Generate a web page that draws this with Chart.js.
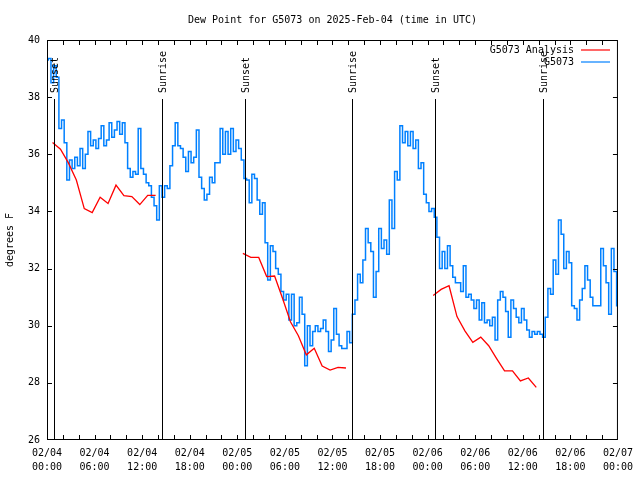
<!DOCTYPE html>
<html lang="en">
<head>
<meta charset="UTF-8">
<title>Dew Point for G5073</title>
<script src="https://cdn.jsdelivr.net/npm/chart.js"></script>
<style>
  html, body { margin: 0; padding: 0; background: #fff; }
  #wrap { width: 640px; height: 480px; }
</style>
</head>
<body>
<div id="wrap"><canvas id="dewChart" width="640" height="480"></canvas></div>
<script>
// x axis is hours since 02/04 00:00 UTC
const xTicks = [0, 6, 12, 18, 24, 30, 36, 42, 48, 54, 60, 66, 72];
const xTickDates = ['02/04', '02/04', '02/04', '02/04', '02/05', '02/05', '02/05', '02/05', '02/06', '02/06', '02/06', '02/06', '02/07'];
const xTickTimes = ['00:00', '06:00', '12:00', '18:00', '00:00', '06:00', '12:00', '18:00', '00:00', '06:00', '12:00', '18:00', '00:00'];
const yTicks = [26, 28, 30, 32, 34, 36, 38, 40];

// sunrise / sunset markers
const sunHours = [0.92, 14.46, 25.0, 38.42, 48.96, 62.5];
const sunLabels = ['Sunset', 'Sunrise', 'Sunset', 'Sunrise', 'Sunset', 'Sunrise'];

// G5073 observations, one value every 20 minutes from 02/04 00:00
const obsStep = 1 / 3;
const obsValues = [
  39.3, 39.35, 38.5,  39.1, 38.7, 36.9,  37.2, 36.4, 35.1,  35.8, 35.5, 35.9,
  35.6, 36.2, 35.5,   36.0, 36.8, 36.3,  36.5, 36.2, 36.55, 37.0, 36.3, 36.5,
  37.1, 36.6, 36.85,  37.15, 36.7, 37.1, 36.4, 35.5, 35.2,  35.4, 35.3, 36.9,
  35.5, 35.3, 35.0,   34.9, 34.5, 34.2,  33.7, 34.9, 34.5,  34.9, 34.8, 35.6,
  36.3, 37.1, 36.3,   36.2, 35.9, 35.4,  36.1, 35.7, 35.9,  36.85, 35.2, 34.8,
  34.4, 34.6, 35.2,   35.0, 35.7, 35.7,  36.9, 36.0, 36.8,  36.0, 36.9, 36.1,
  36.5, 36.2, 35.8,   35.15, 35.1, 34.3, 35.3, 35.15, 34.4, 33.9, 34.3, 32.9,
  31.6, 32.8, 32.6,   32.0, 31.8, 31.2,  30.9, 31.1, 30.2,  31.1, 30.0, 30.1,
  31.0, 30.4, 28.6,   30.0, 29.3, 29.8,  30.0, 29.8, 29.9,  30.2, 29.8, 29.1,
  29.5, 30.6, 29.7,   29.3, 29.2, 29.2,  29.8, 29.4, 30.4,  30.9, 31.8, 31.5,
  32.3, 33.4, 32.9,   32.6, 31.0, 31.9,  33.4, 32.7, 33.0,  32.5, 34.4, 33.4,
  35.4, 35.1, 37.0,   36.4, 36.8, 36.3,  36.8, 36.2, 36.5,  35.5, 35.7, 34.6,
  34.3, 34.0, 34.1,   33.8, 33.1, 32.0,  32.6, 32.0, 32.8,  32.1, 31.7, 31.5,
  31.5, 31.2, 32.1,   31.0, 31.1, 30.9,  30.6, 30.9, 30.2,  30.8, 30.1, 30.2,
  30.0, 30.3, 29.5,   30.9, 31.2, 31.0,  30.5, 29.6, 30.9,  30.6, 30.3, 30.1,
  30.6, 30.2, 29.85,  29.6, 29.8, 29.7,  29.8, 29.7, 29.6,  30.3, 31.3, 31.1,
  32.3, 31.8, 33.7,   33.2, 32.0, 32.6,  32.2, 30.7, 30.6,  30.2, 30.9, 31.3,
  32.1, 31.6, 31.0,   30.7, 30.7, 30.7,  32.7, 32.1, 31.5,  30.4, 32.7, 31.9,
  30.7
];

// G5073 Analysis, hourly, three runs
const anaStarts = [0.7, 24.7, 48.7];
const anaRun1 = [36.41, 36.18, 35.7, 35.1, 34.1, 33.96, 34.5, 34.28, 34.92, 34.55, 34.52, 34.24, 34.56, 34.56];
const anaRun2 = [32.53, 32.39, 32.39, 31.72, 31.74, 30.96, 30.14, 29.65, 28.98, 29.21, 28.59, 28.45, 28.54, 28.52];
const anaRun3 = [31.06, 31.27, 31.4, 30.32, 29.82, 29.42, 29.6, 29.3, 28.85, 28.42, 28.42, 28.07, 28.17, 27.84];

const TITLE = 'Dew Point for G5073 on 2025-Feb-04 (time in UTC)';
const MONO = 'DejaVu Sans Mono';
const RED = '#ff0000';
const BLUE = '#0080ff';

const obsPoints = obsValues.map((v, i) => ({ x: i * obsStep, y: v }));

const anaPoints = [];
[anaRun1, anaRun2, anaRun3].forEach((run, r) => {
  if (r > 0) anaPoints.push({ x: anaStarts[r] - 0.5, y: null });
  run.forEach((v, k) => anaPoints.push({ x: anaStarts[r] + k, y: v }));
});

// title, frame, inward tick marks, sun lines and the legend
const decor = {
  id: 'decor',
  afterDatasetsDraw(chart) {
    const { ctx, chartArea: a, scales: { x, y } } = chart;
    ctx.save();
    ctx.strokeStyle = '#000';
    ctx.fillStyle = '#000';
    ctx.lineWidth = 1;
    ctx.font = '10px ' + MONO;

    // title centred over the plot
    ctx.textAlign = 'center';
    ctx.textBaseline = 'middle';
    ctx.fillText(TITLE, (a.left + a.right) / 2, 20);

    // sunrise / sunset
    sunHours.forEach((h, i) => {
      const px = Math.round(x.getPixelForValue(h)) + 0.5;
      ctx.beginPath();
      ctx.moveTo(px, 99);
      ctx.lineTo(px, a.bottom);
      ctx.stroke();
      ctx.save();
      ctx.translate(px + 1, 93);
      ctx.rotate(-Math.PI / 2);
      ctx.textAlign = 'left';
      ctx.textBaseline = 'middle';
      ctx.fillText(sunLabels[i], 0, 0);
      ctx.restore();
    });

    // frame
    ctx.strokeRect(a.left + 0.5, a.top + 0.5, a.right - a.left - 1, a.bottom - a.top - 1);

    // tick marks inside the frame
    ctx.beginPath();
    for (let h = 2; h < 72; h += 2) {
      const px = Math.round(x.getPixelForValue(h)) + 0.5;
      ctx.moveTo(px, a.bottom); ctx.lineTo(px, a.bottom - 5);
      ctx.moveTo(px, a.top); ctx.lineTo(px, a.top + 5);
    }
    yTicks.slice(1, -1).forEach(v => {
      const py = Math.round(y.getPixelForValue(v)) + 0.5;
      ctx.moveTo(a.left, py); ctx.lineTo(a.left + 5, py);
      ctx.moveTo(a.right, py); ctx.lineTo(a.right - 5, py);
    });
    ctx.stroke();
    ctx.restore();
  },
  afterDraw(chart) {
    const ctx = chart.ctx;
    const items = [['G5073 Analysis', RED, 50], ['G5073', BLUE, 62]];
    ctx.save();
    ctx.font = '10px ' + MONO;
    ctx.textAlign = 'right';
    ctx.textBaseline = 'middle';
    items.forEach(([label, color, yy]) => {
      ctx.fillStyle = '#000';
      ctx.fillText(label, 574, yy);
      ctx.strokeStyle = color;
      ctx.lineWidth = 1.2;
      ctx.beginPath();
      ctx.moveTo(581, yy);
      ctx.lineTo(610, yy);
      ctx.stroke();
    });
    ctx.restore();
  }
};

new Chart(document.getElementById('dewChart'), {
  type: 'line',
  data: {
    datasets: [
      {
        label: 'G5073 Analysis',
        data: anaPoints,
        borderColor: RED,
        borderWidth: 1.3,
        pointRadius: 0,
        spanGaps: false,
        tension: 0
      },
      {
        label: 'G5073',
        data: obsPoints,
        borderColor: BLUE,
        borderWidth: 1.5,
        pointRadius: 0,
        stepped: 'middle'
      }
    ]
  },
  options: {
    responsive: false,
    animation: false,
    layout: { padding: { top: 40, right: 19 } },
    plugins: {
      legend: { display: false },
      tooltip: { enabled: false },
      title: { display: false }
    },
    scales: {
      x: {
        type: 'linear',
        min: 0,
        max: 72,
        grid: { display: false, drawTicks: false },
        border: { display: false },
        afterBuildTicks: s => { s.ticks = xTicks.map(v => ({ value: v })); },
        afterFit: s => { s.height = 40; },
        ticks: {
          autoSkip: false,
          maxRotation: 0,
          padding: 7,
          color: '#000',
          font: { family: MONO, size: 10, lineHeight: 1.35 },
          callback: v => {
            const i = xTicks.indexOf(v);
            return [xTickDates[i], xTickTimes[i]];
          }
        }
      },
      y: {
        min: 26,
        max: 40,
        grid: { display: false, drawTicks: false },
        border: { display: false },
        afterBuildTicks: s => { s.ticks = yTicks.map(v => ({ value: v })); },
        afterFit: s => { s.width = 47; },
        ticks: {
          padding: 7,
          color: '#000',
          font: { family: MONO, size: 10 },
          callback: v => String(v)
        },
        title: {
          display: true,
          text: 'degrees F',
          color: '#000',
          font: { family: MONO, size: 10, lineHeight: 1.2 },
          padding: { top: 4, bottom: 0 }
        }
      }
    }
  },
  plugins: [decor]
});
</script>
</body>
</html>
